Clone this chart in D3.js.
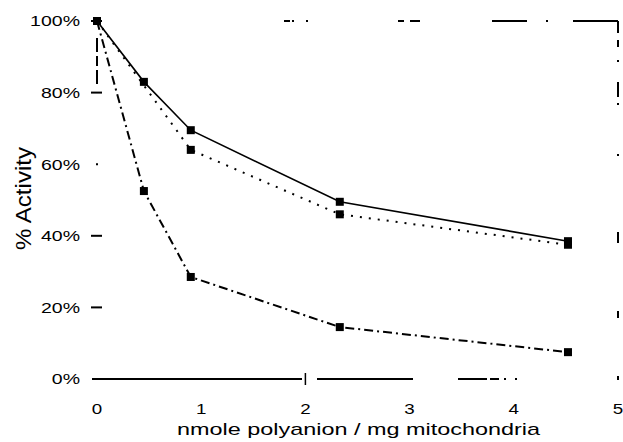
<!DOCTYPE html>
<html>
<head>
<meta charset="utf-8">
<script src="https://cdn.jsdelivr.net/npm/d3@7/dist/d3.min.js"></script>
<style>
  html, body { margin: 0; padding: 0; background: #fff; }
  svg { display: block; }
  text { font-family: "Liberation Sans", Arial, sans-serif; fill: #000; }
</style>
</head>
<body>
<svg id="chart" width="623" height="442"></svg>
<script>
// ---- data ----
const xTicks = [0, 1, 2, 3, 4, 5];
const yTicks = [0, 20, 40, 60, 80, 100];
const yTickLabels = ["0%", "20%", "40%", "60%", "80%", "100%"];

const doseA = [0, 0.45, 0.9, 2.33, 4.52];
const activityA = [100, 83, 69.5, 49.5, 38.5];

const doseB = [0, 0.9, 2.33, 4.52];
const activityB = [100, 64, 46, 37.5];

const doseC = [0, 0.45, 0.9, 2.33, 4.52];
const activityC = [100, 52.5, 28.5, 14.5, 7.5];

const xTitle = "nmole polyanion / mg mitochondria";
const yTitle = "% Activity";

// ---- chart ----
const svg = d3.select("#chart");
const x = d3.scaleLinear().domain([0, 5]).range([97, 618]);
const y = d3.scaleLinear().domain([0, 100]).range([379, 21]);

function stretch(sel, f) {
  sel.each(function () {
    const w = this.getComputedTextLength();
    d3.select(this).attr("textLength", w * f).attr("lengthAdjust", "spacingAndGlyphs");
  });
}

// frame (partially faded in the original scan)
const frame = svg.append("g").attr("stroke", "#000").attr("fill", "none");
// bottom axis line
frame.append("line")
  .attr("x1", x(0) - 5).attr("x2", x(5) + 2)
  .attr("y1", y(0)).attr("y2", y(0))
  .attr("stroke-width", 2)
  .attr("stroke-dasharray", "210,15,96,45,29,3,9,5,2,9,2,100,2");
// small tick on bottom axis at 2
frame.append("line")
  .attr("x1", x(2)).attr("x2", x(2))
  .attr("y1", y(0) - 6).attr("y2", y(0) + 6)
  .attr("stroke-width", 1.5);
// top border
frame.append("line")
  .attr("x1", x(0)).attr("x2", x(5))
  .attr("y1", y(100)).attr("y2", y(100))
  .attr("stroke-width", 2)
  .attr("stroke-dasharray", "0,187,6,2,2,12,2,90,6,6,10,72,35,19,2,25,45,100");
// right border
frame.append("line")
  .attr("x1", x(5)).attr("x2", x(5))
  .attr("y1", y(100)).attr("y2", y(0))
  .attr("stroke-width", 2)
  .attr("stroke-dasharray", "12,7,7,13,2,20,15,6,2,49,2,76,11,68,7,58,2,100");
// left axis line (only top part visible)
frame.append("line")
  .attr("x1", x(0)).attr("x2", x(0))
  .attr("y1", y(100)).attr("y2", y(80))
  .attr("stroke-width", 2)
  .attr("stroke-dasharray", "0,17,14,4,10,4,14,100");

// y ticks
frame.selectAll("line.ytick")
  .data(yTicks.filter(d => d > 0))
  .join("line")
  .attr("class", "ytick")
  .attr("x1", x(0) - 6).attr("x2", x(0) + 5)
  .attr("y1", d => y(d)).attr("y2", d => y(d))
  .attr("stroke-width", 2)
  .attr("stroke-dasharray", d => d === 60 ? "0,5,2,10" : null);

// y tick labels
const yl = svg.append("g").selectAll("text")
  .data(yTicks)
  .join("text")
  .attr("x", 80)
  .attr("y", d => y(d))
  .attr("dy", "0.36em")
  .attr("text-anchor", "end")
  .attr("font-size", 15)
  .text((d, i) => yTickLabels[i]);
stretch(yl, 1.3);

// x tick labels
const xl = svg.append("g").selectAll("text")
  .data(xTicks)
  .join("text")
  .attr("x", d => x(d))
  .attr("y", 414)
  .attr("text-anchor", "middle")
  .attr("font-size", 15)
  .text(d => d);
stretch(xl, 1.25);

// axis titles
svg.append("text")
  .attr("x", 358.5).attr("y", 435)
  .attr("text-anchor", "middle")
  .attr("font-size", 17)
  .attr("textLength", 363)
  .attr("lengthAdjust", "spacingAndGlyphs")
  .text(xTitle);

svg.append("text")
  .attr("transform", "translate(31,198.5) scale(1.3,1) rotate(-90)")
  .attr("text-anchor", "middle")
  .attr("font-size", 17)
  .attr("textLength", 103)
  .attr("lengthAdjust", "spacingAndGlyphs")
  .text(yTitle);

// series
const series = [
  { dose: doseA, act: activityA, dash: null, width: 1.6 },
  { dose: doseB, act: activityB, dash: "2,7", width: 2 },
  { dose: doseC, act: activityC, dash: "9,4,2,4", width: 2 }
];

const line = d3.line().x(d => x(d[0])).y(d => y(d[1]));

series.forEach(s => {
  const pts = s.dose.map((d, i) => [d, s.act[i]]);
  svg.append("path")
    .datum(pts)
    .attr("d", line)
    .attr("fill", "none")
    .attr("stroke", "#000")
    .attr("stroke-width", s.width)
    .attr("stroke-dasharray", s.dash);
  svg.append("g").selectAll("rect")
    .data(pts)
    .join("rect")
    .attr("x", d => x(d[0]) - 4)
    .attr("y", d => y(d[1]) - 4)
    .attr("width", 8)
    .attr("height", 8)
    .attr("fill", "#000");
});
</script>
</body>
</html>
